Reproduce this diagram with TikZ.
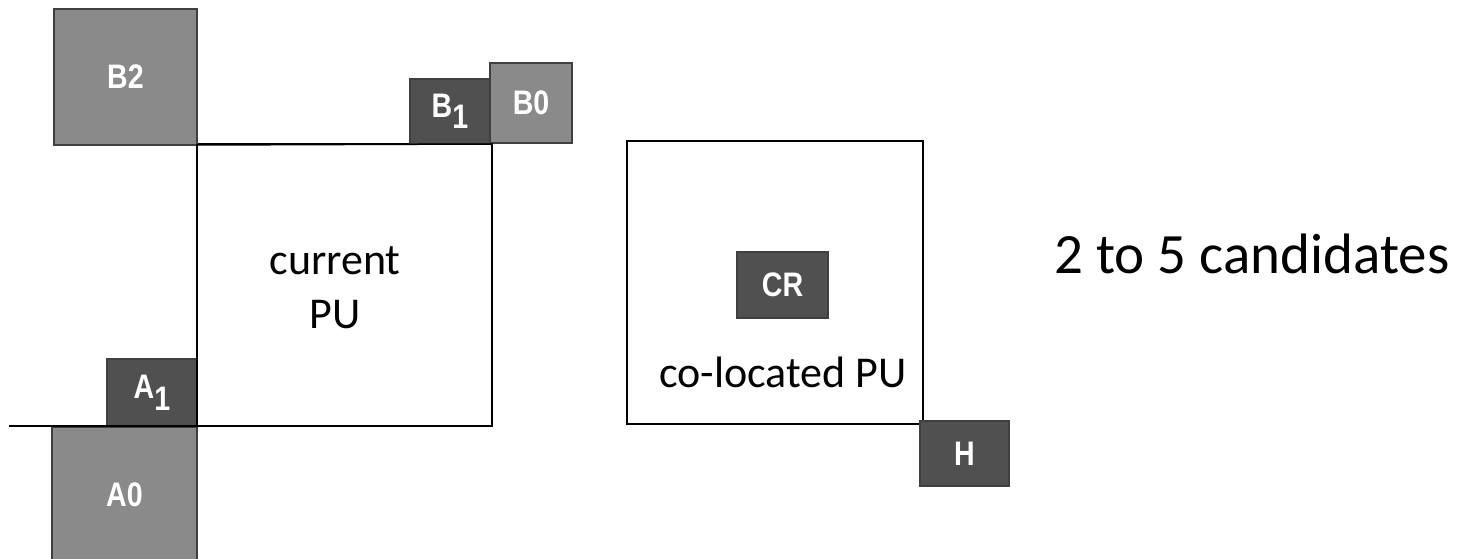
\documentclass[tikz,border=0pt]{standalone}
\usepackage{fontspec}
\setmainfont{Carlito}
\newfontfamily\labfont{Liberation Sans}[FakeStretch=0.84]
\definecolor{midgray}{HTML}{8A8A8A}
\definecolor{darkgray2}{HTML}{505050}
\begin{document}
\begin{tikzpicture}[x=1pt,y=-1pt,
  pubox/.style={draw=black, line width=1.5pt, inner sep=0pt, outer sep=0pt, anchor=north west},
  blk/.style={draw=black!75, line width=1.3pt, inner sep=0pt, outer sep=0pt, anchor=north west,
    text=white, font=\labfont\bfseries\fontsize{34}{38}\selectfont},
  lightblk/.style={blk, fill=midgray},
  darkblk/.style={blk, fill=darkgray2},
  bigtext/.style={inner sep=0pt, font=\fontsize{44}{54}\selectfont},
  edge/.style={draw=black, line width=1.5pt}]
\useasboundingbox (0,0) rectangle (1468,559);
% current PU
\node[pubox, minimum width=295pt, minimum height=282pt] (curpu) at (197,144) {};
\node[bigtext, align=center, anchor=center] (curtxt) at (335,288) {current\\PU};
% neighbours
\node[lightblk, minimum width=143pt, minimum height=136pt] (B2) at (54,9) {B2};
\node[darkblk, minimum width=80pt, minimum height=65pt] (B1) at (410,79) {B\raisebox{-11pt}{1}};
\node[lightblk, minimum width=82pt, minimum height=80pt] (B0) at (490,63) {B0};
\node[darkblk, minimum width=90pt, minimum height=68pt] (A1) at (107,359) {A\raisebox{-12pt}{1}};
\node[lightblk, minimum width=145pt, minimum height=136pt] (A0) at (52,427) {\raisebox{-4pt}{A0}};
% lines of the current PU
\coordinate (bl) at (9,426);
\draw[edge] (curpu.south east) -- (bl);
\draw[edge] (B2.south east) -- (curpu.north east) -- (curpu.south east);
\draw[edge] (curpu.north west) -- (curpu.south west);
% co-located PU
\node[pubox, minimum width=296pt, minimum height=283pt] (colpu) at (627,141) {};
\node[darkblk, minimum width=91pt, minimum height=66pt] (CR) at (737,252) {CR};
\node[bigtext, anchor=base] (coltxt) at (783,387) {co-located PU};
\node[darkblk, minimum width=89pt, minimum height=65pt] (H) at (920,421) {H};
% caption
\node[inner sep=0pt, font=\fontsize{57}{68}\selectfont, anchor=base] (cand) at (1252,273) {2 to 5 candidates};
\end{tikzpicture}
\end{document}
